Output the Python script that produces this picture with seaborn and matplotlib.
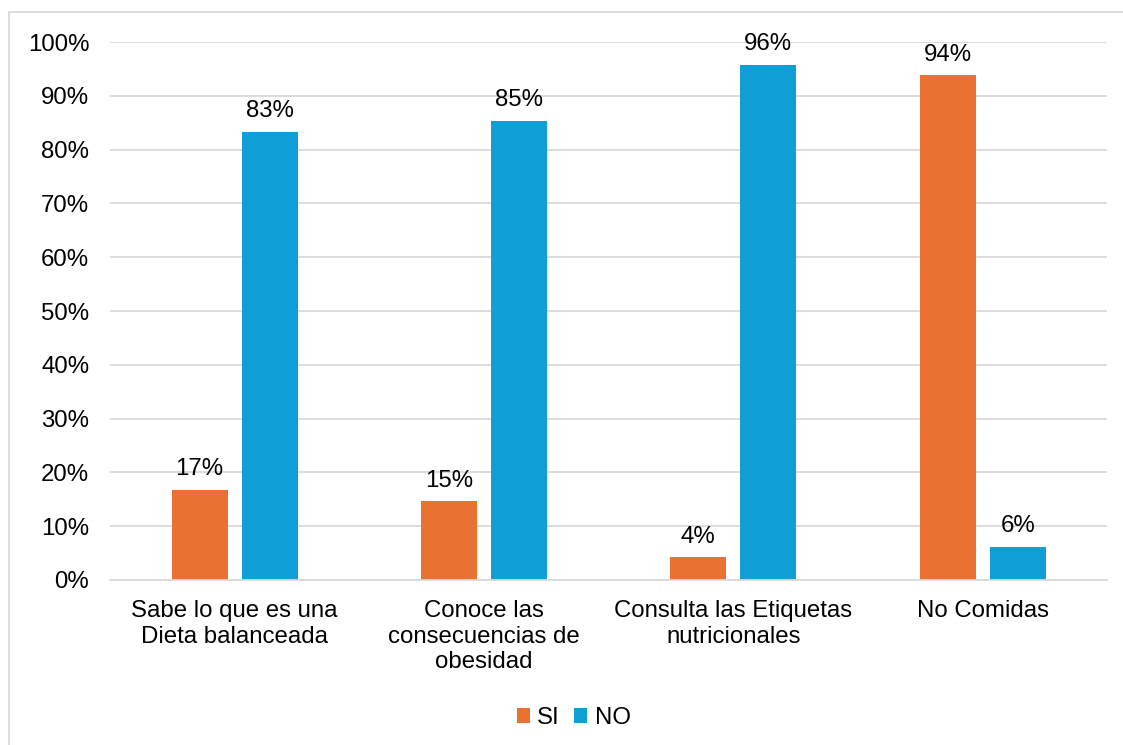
import matplotlib
matplotlib.use("Agg")
import matplotlib.pyplot as plt
import seaborn as sns
import pandas as pd
from matplotlib.patches import Rectangle
from matplotlib.ticker import FuncFormatter

categories = ["Sabe lo que es una\nDieta balanceada",
              "Conoce las\nconsecuencias de\nobesidad",
              "Consulta las Etiquetas\nnutricionales",
              "No Comidas"]
si_values = [16.7, 14.6, 4.2, 93.8]
no_values = [83.3, 85.4, 95.8, 6.2]
series = ["SI", "NO"]
colors = ["#E97132", "#0F9ED5"]

df = pd.DataFrame({
    "cat": categories * 2,
    "serie": ["SI"] * 4 + ["NO"] * 4,
    "val": si_values + no_values,
})

sns.set_theme(style="white")
plt.rcParams['font.family'] = ['Liberation Sans', 'DejaVu Sans']
plt.rcParams['text.color'] = 'black'

FS = 17.3

fig = plt.figure(figsize=(11.23, 7.45), dpi=100)
ax = fig.add_axes([0.098, 0.2215, 0.888, 0.722])

sns.barplot(data=df, x="cat", y="val", hue="serie", hue_order=series,
            palette=colors, width=0.562, gap=0.2, ax=ax, saturation=1,
            edgecolor="none", errorbar=None)

ax.set_ylim(0, 100)
ax.set_yticks(range(0, 101, 10))
ax.yaxis.set_major_formatter(FuncFormatter(lambda v, p: f"{int(v)}%"))
ax.set_xlim(-0.5, 3.5)
ax.grid(axis="y", color="#d9d9d9", linewidth=1.3)
ax.set_axisbelow(True)
for s in ["top", "right", "left"]:
    ax.spines[s].set_visible(False)
ax.spines["bottom"].set_color("#d9d9d9")
ax.spines["bottom"].set_linewidth(1.3)
ax.tick_params(axis="both", length=0, labelsize=FS, colors="black")
ax.tick_params(axis="y", pad=15)
ax.tick_params(axis="x", pad=14.5)
ax.set_xlabel("")
ax.set_ylabel("")
for lbl in ax.get_xticklabels():
    lbl.set_linespacing(1.2)

for cont in ax.containers:
    ax.bar_label(cont, labels=[f"{round(v.get_height())}%" for v in cont],
                 padding=7, fontsize=FS, color="black")

leg = ax.legend(loc="lower center", bbox_to_anchor=(0.465, -0.295), ncol=2,
                frameon=False, fontsize=FS, handlelength=0.55, handleheight=0.55,
                handletextpad=0.3, columnspacing=0.6, borderaxespad=0)
for t in leg.get_texts():
    t.set_color("black")

fig.patches.append(Rectangle((9 / 1123, -0.02), 1.1, 1 - 12 / 745 + 0.02,
                             transform=fig.transFigure, fill=False,
                             edgecolor="#d9d9d9", linewidth=1.3))

fig.savefig("out.png", dpi=100)
